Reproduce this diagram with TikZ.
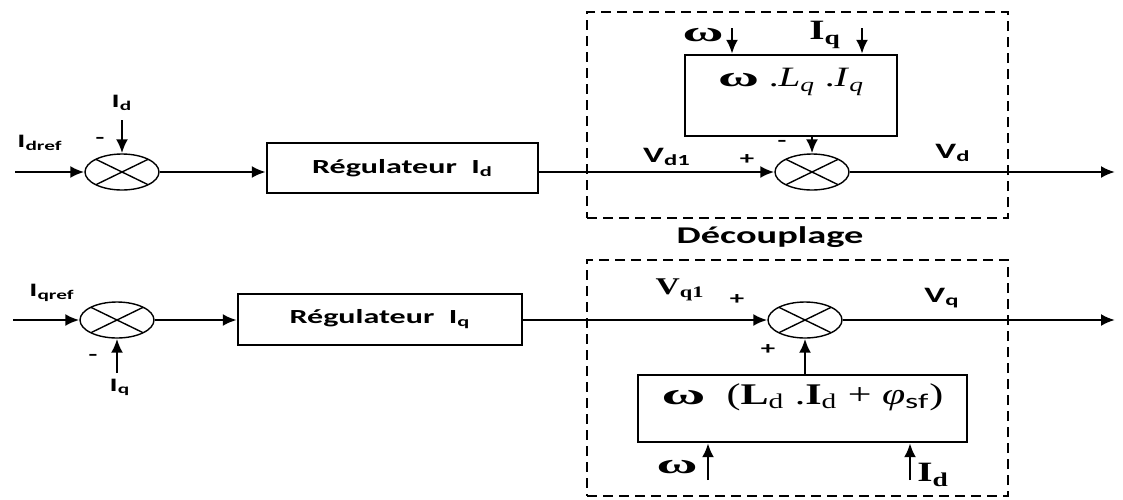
\documentclass[tikz,border=0pt]{standalone}
\usepackage{fontspec}
\usetikzlibrary{arrows.meta, shapes.geometric}
\newfontfamily\calfont[FakeStretch=1.6]{Carlito}
\newfontfamily\serfont[FakeStretch=1.4]{Liberation Serif}
\newfontfamily\omfont[FakeStretch=2.0]{Liberation Serif}

\begin{document}
\begin{tikzpicture}[x=0.5pt, y=-0.5pt,
    sig/.style={line width=1.2pt, -{Latex[length=7pt,width=6pt]}},
    sumnode/.style={draw, ellipse, line width=0.7pt, minimum width=37pt, minimum height=18pt, inner sep=0pt,
        path picture={\draw[line width=0.7pt] (path picture bounding box.north west) -- (path picture bounding box.south east)
            (path picture bounding box.north east) -- (path picture bounding box.south west);}},
    blockbox/.style={draw, line width=1.2pt, rectangle, inner sep=0pt},
    dashbox/.style={draw, dash pattern=on 5pt off 3pt, line width=0.9pt, rectangle, inner sep=0pt},
    lab/.style={font=\calfont\bfseries\fontsize{9.5}{10}\selectfont, inner sep=0pt},
    reglab/.style={font=\calfont\bfseries\fontsize{10}{12}\selectfont},
    vlab/.style={font=\calfont\bfseries\fontsize{11}{12}\selectfont, inner sep=0pt},
    signlab/.style={font=\calfont\bfseries\fontsize{9}{10}\selectfont, inner sep=0pt},
    serlab/.style={font=\serfont\fontsize{14}{15}\selectfont, inner sep=0pt},
    biglab/.style={font=\serfont\bfseries\fontsize{14}{15}\selectfont, inner sep=0pt},
    titlab/.style={font=\calfont\bfseries\fontsize{12}{14}\selectfont, inner sep=0pt}]
\useasboundingbox (0,0) rectangle (1123,499);

\node[sumnode] (sumA) at (122,172) {};
\node[blockbox, reglab, minimum width=135.5pt, minimum height=25pt] (regA) at (402.5,168) {Régulateur\ \ I\textsubscript{d}};
\node[sumnode] (sumB) at (812,172) {};
\node[blockbox, minimum width=106pt, minimum height=40.5pt] (decA) at (791,95.5) {};
\node[serlab] (decAtxt) at (791,82) {{\omfont\bfseries ω} .\textit{L}\textsubscript{\textit{q}} .\textit{I}\textsubscript{\textit{q}}};
\node[dashbox, minimum width=210.5pt, minimum height=103pt] (frameA) at (797.5,115) {};
\coordinate (inA) at (15,172);
\coordinate (outA) at (1115,172);
\coordinate (idA) at (122,120);
\coordinate (wA) at (732,28);
\coordinate (iqA) at (862,28);

\draw[sig] (inA) -- (sumA);
\draw[sig] (idA) -- (sumA);
\draw[sig] (sumA) -- (sumA -| regA.west);
\draw[sig] (regA.east |- sumB) -- (sumB);
\draw[sig] (sumB) -- (outA);
\draw[sig] (wA) -- (wA |- decA.north);
\draw[sig] (iqA) -- (iqA |- decA.north);
\draw[sig] (decA.south -| sumB) -- (sumB);

\node[lab] (idrefA) at (40,143) {I\textsubscript{dref}};
\node[lab] (idlabA) at (122,103) {I\textsubscript{d}};
\node[signlab] (minA) at (100,140) {-};
\node[vlab] (vdone) at (667,157) {V\textsubscript{d1}};
\node[signlab] (plusB) at (747,160) {+};
\node[signlab] (minB) at (782,143) {-};
\node[vlab] (vdout) at (953,153) {V\textsubscript{d}};
\node[biglab, font=\omfont\bfseries\fontsize{14}{15}\selectfont] (wlabA) at (703,35) {ω};
\node[biglab] (iqlabA) at (825,35) {I\textsubscript{q}};
\node[titlab] (decoupl) at (770,237) {Découplage};

\node[sumnode] (sumC) at (117,320) {};
\node[blockbox, reglab, minimum width=142pt, minimum height=25.5pt] (regB) at (380,319.5) {Régulateur\ \ I\textsubscript{q}};
\node[sumnode] (sumD) at (805,320) {};
\node[blockbox, minimum width=164.5pt, minimum height=33.5pt] (decB) at (802.5,408.5) {};
\node[serlab, font=\serfont\fontsize{15}{16}\selectfont] (decBtxt) at (802.5,397) {{\omfont\bfseries ω}\ \ (\textbf{L}\textsubscript{d} .\textbf{I}\textsubscript{d} + \textit{φ}{\calfont\textsubscript{sf}})};
\node[dashbox, minimum width=210.5pt, minimum height=118pt] (frameB) at (797.5,378) {};
\coordinate (inB) at (13,320);
\coordinate (outB) at (1115,320);
\coordinate (iqB) at (117,373);
\coordinate (wB) at (708,480);
\coordinate (idB) at (910,480);

\draw[sig] (inB) -- (sumC);
\draw[sig] (iqB) -- (sumC);
\draw[sig] (sumC) -- (sumC -| regB.west);
\draw[sig] (regB.east |- sumD) -- (sumD);
\draw[sig] (sumD) -- (outB);
\draw[sig] (decB.north -| sumD) -- (sumD);
\draw[sig] (wB) -- (wB |- decB.south);
\draw[sig] (idB) -- (idB |- decB.south);

\node[lab] (iqrefC) at (52,293) {I\textsubscript{qref}};
\node[signlab] (minC) at (93,357) {-};
\node[lab] (iqlabC) at (120,387) {I\textsubscript{q}};
\node[serlab, font=\serfont\bfseries\fontsize{12}{13}\selectfont] (vqone) at (680,290) {V\textsubscript{q1}};
\node[signlab] (plusD) at (737,300) {+};
\node[vlab] (vqout) at (942,298) {V\textsubscript{q}};
\node[signlab] (plusE) at (768,350) {+};
\node[biglab, font=\omfont\bfseries\fontsize{14}{15}\selectfont] (wlabB) at (677,467) {ω};
\node[biglab] (idlabB) at (933,475) {I\textsubscript{d}};
\end{tikzpicture}
\end{document}
